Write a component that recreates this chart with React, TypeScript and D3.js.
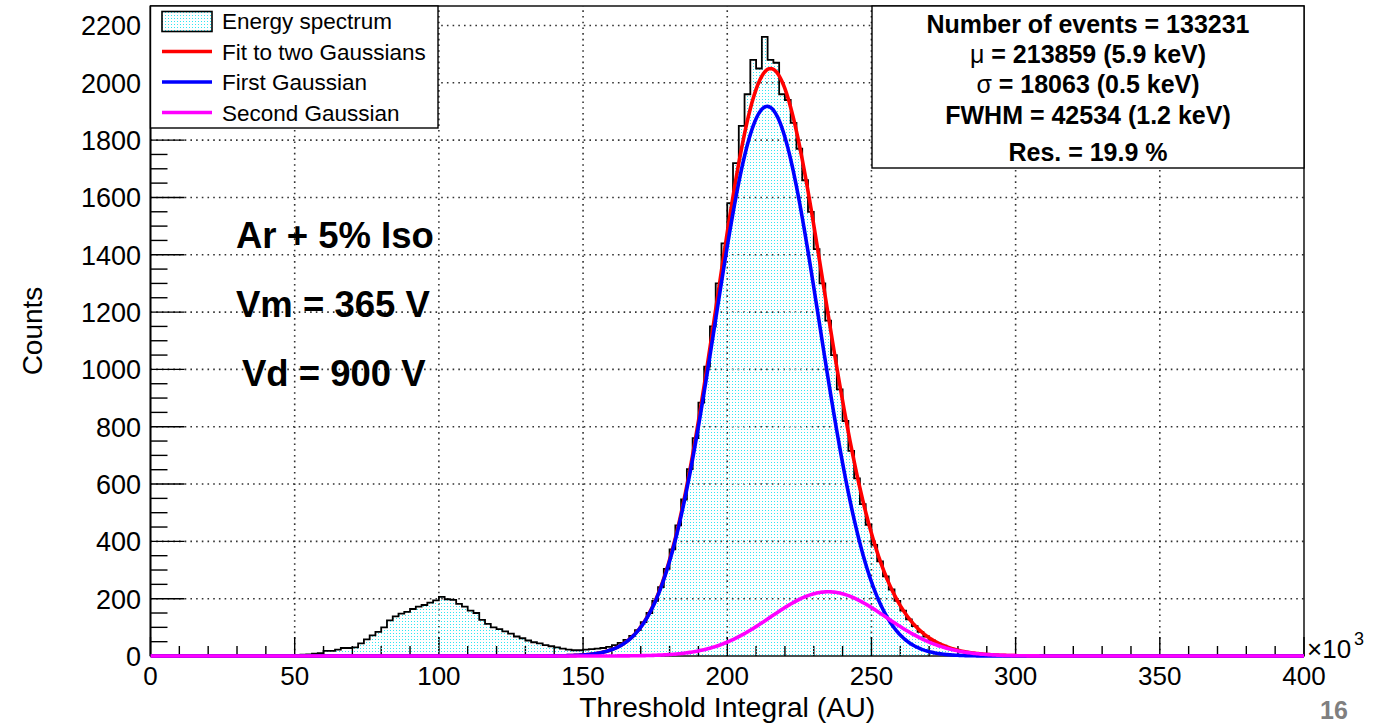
import React from 'react'
import * as d3 from 'd3'

// histogram: 2k-wide bins starting at 50k (AU x 10^3)
const histStart = 50
const binWidth = 2
const lowPeakCounts = [3, 5, 6, 8, 10, 18, 18, 22, 28, 28, 30, 44, 58, 72, 84, 100, 124, 138, 148, 154,
  164, 172, 178, 186, 194, 206, 198, 196, 182, 172, 158, 150, 126, 112, 100, 94, 86, 78, 68, 62,
  54, 48, 44, 38, 34, 30, 26, 22, 20, 20]
const mainPeakCounts = [22, 24, 26, 28, 32, 38, 46, 56, 70, 90, 118, 150, 192, 240, 304, 372, 456, 546, 652, 760,
  884, 1010, 1150, 1300, 1440, 1580, 1720, 1850, 1960, 2080, 2050, 2160, 2080, 2070, 1960, 1940, 1860, 1770, 1660, 1550,
  1420, 1300, 1170, 1050, 930, 820, 716, 620, 530, 458, 388, 330, 278, 232, 192, 158, 128, 104, 84, 68,
  54, 44, 36, 28, 22, 17, 13, 10, 8, 6, 4, 3, 2, 1, 1]
const counts = [...lowPeakCounts, ...mainPeakCounts]

// fitted gaussians: [amplitude, mean, sigma]
const firstGauss = [1918, 213.86, 18.06]
const secondGauss = [224, 235, 20]

const xTicks = [0, 50, 100, 150, 200, 250, 300, 350, 400]
const yTicks = [0, 200, 400, 600, 800, 1000, 1200, 1400, 1600, 1800, 2000, 2200]
const legendItems = ['Energy spectrum', 'Fit to two Gaussians', 'First Gaussian', 'Second Gaussian']
const legendColors = ['', '#ff0000', '#0000ff', '#ff00ff']
const statsLines = [
  ['', 'Number of events = 133231'],
  ['\u03bc', ' = 213859 (5.9 keV)'],
  ['\u03c3', ' = 18063 (0.5 keV)'],
  ['', 'FWHM = 42534 (1.2 keV)'],
  ['', 'Res. = 19.9 %'],
]
const statsBaselines = [33, 63, 93, 124, 161]
const notes = ['Ar + 5% Iso', 'Vm = 365 V', 'Vd = 900 V']

const W = 1392
const H = 724
const left = 150.5
const right = 1304
const top = 6
const bottom = 656
const font = '"Liberation Sans", Arial, sans-serif'

const gauss = (p: number[], x: number) => p[0] * Math.exp(-((x - p[1]) ** 2) / (2 * p[2] * p[2]))

export default function App() {
  const x = d3.scaleLinear().domain([0, 400]).range([left, right])
  const y = d3.scaleLinear().domain([0, 2268]).range([bottom, top])

  const steps: [number, number][] = [[0, 0], [histStart, 0]]
  counts.forEach((c, i) => {
    const x0 = histStart + i * binWidth
    steps.push([x0, c], [x0 + binWidth, c])
  })
  steps.push([histStart + counts.length * binWidth, 0], [400, 0])

  const histLine = d3.line<[number, number]>().x(d => x(d[0])).y(d => y(d[1]))
  const histArea = d3.area<[number, number]>().x(d => x(d[0])).y0(y(0)).y1(d => y(d[1]))

  const xs = d3.range(0, 400.01, 0.5)
  const fitLine = (f: (v: number) => number) =>
    d3.line<number>().x(d => x(d)).y(d => y(f(d)))(xs) as string

  const xMinor = d3.range(0, 400.01, 10)
  const yMinor = d3.range(0, 2268, 50)

  return (
    <svg width={W} height={H} style={{ position: 'absolute', left: 0, top: 0, background: '#fff' }}>
      <defs>
        <pattern id="dots" width="3" height="3" patternUnits="userSpaceOnUse">
          <rect x="0" y="0" width="1" height="1" fill="#30e6f2" />
        </pattern>
        <clipPath id="frame">
          <rect x={left} y={top} width={right - left} height={bottom - top + 2} />
        </clipPath>
      </defs>

      {/* grid */}
      <g stroke="#333" strokeWidth={1.6} strokeDasharray="1.6,4.1">
        {xTicks.slice(1, -1).map(t => (
          <line key={'gx' + t} x1={x(t)} x2={x(t)} y1={bottom} y2={top} />
        ))}
        {yTicks.slice(1).map(t => (
          <line key={'gy' + t} x1={left} x2={right} y1={y(t)} y2={y(t)} />
        ))}
      </g>

      {/* ticks */}
      <g stroke="#000" strokeWidth={1.4}>
        {xMinor.map(t => (
          <line key={'tx' + t} x1={x(t)} x2={x(t)} y1={bottom} y2={bottom - (t % 50 === 0 ? 19 : 10)} />
        ))}
        {yMinor.map(t => (
          <line key={'ty' + t} x1={left} x2={left + (t % 200 === 0 ? 34 : 17)} y1={y(t)} y2={y(t)} />
        ))}
      </g>

      {/* frame */}
      <rect x={left} y={top} width={right - left} height={bottom - top} fill="none" stroke="#000" strokeWidth={1.4} />
      <line x1={left} x2={left} y1={top} y2={bottom} stroke="#000" strokeWidth={1.8} />

      <g clipPath="url(#frame)">
        <path d={histArea(steps) as string} fill="url(#dots)" />
        <path d={histLine(steps) as string} fill="none" stroke="#000" strokeWidth={1.8} />
        <path d={fitLine(v => gauss(firstGauss, v) + gauss(secondGauss, v))} fill="none" stroke="#ff0000" strokeWidth={3.6} />
        <path d={fitLine(v => gauss(firstGauss, v))} fill="none" stroke="#0000ff" strokeWidth={3.6} />
        <path d={fitLine(v => gauss(secondGauss, v))} fill="none" stroke="#ff00ff" strokeWidth={3.6} />
      </g>

      {/* tick labels */}
      <g fontFamily={font} fontSize={27} fill="#000">
        {yTicks.map(t => (
          <text key={'ly' + t} x={141} y={y(t) + 10} textAnchor="end">{t}</text>
        ))}
        {xTicks.map(t => (
          <text key={'lx' + t} x={x(t)} y={685} textAnchor="middle" fontSize={26}>{t}</text>
        ))}
        <text x={1307} y={658} fontSize={26}>{'\u00d710'}</text>
        <text x={1354} y={645} fontSize={18}>3</text>
        <text x={(left + right) / 2} y={717} textAnchor="middle" fontSize={28.5}>Threshold Integral (AU)</text>
        <text transform={`translate(42,331) rotate(-90)`} textAnchor="middle" fontSize={28}>Counts</text>
      </g>

      {/* legend */}
      <rect x={left} y={top} width={438 - left} height={128 - top} fill="#fff" stroke="#000" strokeWidth={1.4} />
      {legendItems.map((name, i) => {
        const cy = 21 + i * 30.5
        return (
          <g key={name}>
            {i === 0 ? (
              <rect x={162} y={cy - 9.5} width={50} height={20} fill="url(#dots)" stroke="#000" strokeWidth={1.6} />
            ) : (
              <line x1={162} x2={212} y1={cy} y2={cy} stroke={legendColors[i]} strokeWidth={3.6} />
            )}
            <text x={222} y={cy + 8} fontFamily={font} fontSize={22.5}>{name}</text>
          </g>
        )
      })}

      {/* stats box */}
      <rect x={872} y={top} width={right - 872} height={168 - top} fill="#fff" stroke="#000" strokeWidth={1.4} />
      {statsLines.map((l, i) => (
        <text key={i} x={1088} y={statsBaselines[i]} textAnchor="middle" fontFamily={font} fontSize={25} fontWeight="bold">
          {l[0] && <tspan fontWeight="normal">{l[0]}</tspan>}
          {l[1]}
        </text>
      ))}

      {/* annotations */}
      {notes.map((n, i) => (
        <text key={n} x={i === 2 ? 242 : 236} y={248 + i * 69} fontFamily={font} fontSize={36.5} fontWeight="bold">{n}</text>
      ))}

      <text x={1320} y={719} fontFamily={font} fontSize={25} fontWeight="bold" fill="#7f7f7f">16</text>
    </svg>
  )
}
